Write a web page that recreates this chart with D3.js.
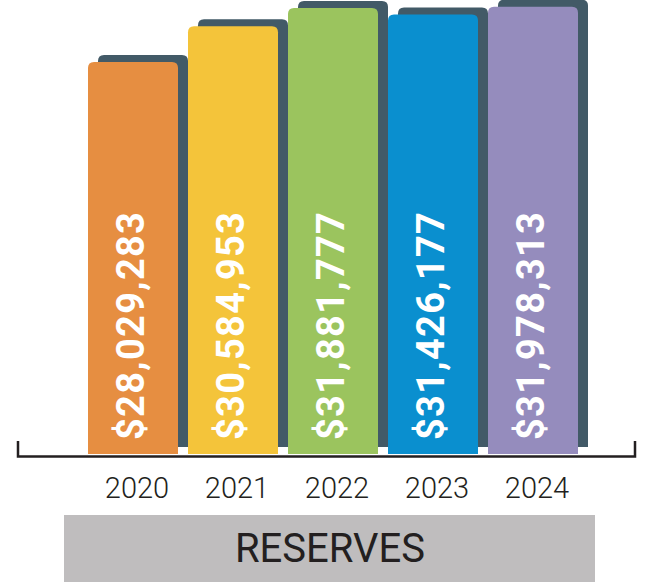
<!DOCTYPE html>
<html>
<head>
<meta charset="utf-8">
<script src="https://cdn.jsdelivr.net/npm/d3@7"></script>
<style>
  body { margin: 0; background: #fff; }
  svg { display: block; }
</style>
</head>
<body>
<div id="chart"></div>
<script>
//constants
const width = 646;
const height = 582;

//data
const years = ["2020", "2021", "2022", "2023", "2024"];
const reserves = [28029283, 30584953, 31881777, 31426177, 31978313];
const barColors = ["#E68E41", "#F4C43A", "#9BC45E", "#0A8FCF", "#958CBD"];
const title = "RESERVES";

const data = years.map((y, i) => ({ year: y, value: reserves[i], color: barColors[i] }));

const shadowColor = "#425A67";
const shadowDx = 10;
const shadowDy = -7;
const baseY = 454;

const x = d3
  .scaleBand()
  .domain(years)
  .range([83, 583])
  .paddingInner(0.1)
  .paddingOuter(0.05);

const y = d3.scaleLinear().domain([0, 32460000]).range([baseY, 0]);

const fmt = (v) => "$" + d3.format(",")(v);

// rect with only the top corners rounded
function topRounded(x0, y0, w, h, r) {
  return `M${x0},${y0 + h}V${y0 + r}Q${x0},${y0} ${x0 + r},${y0}H${x0 + w - r}Q${x0 + w},${y0} ${x0 + w},${y0 + r}V${y0 + h}Z`;
}

const svg = d3
  .select("#chart")
  .append("svg")
  .attr("width", width)
  .attr("height", height);

//shadows
svg
  .selectAll(".shadow")
  .data(data)
  .join("path")
  .attr("class", "shadow")
  .attr("fill", shadowColor)
  .attr("d", (d) =>
    topRounded(x(d.year) + shadowDx, y(d.value) + shadowDy, x.bandwidth(), baseY - y(d.value), 6)
  );

//bars
svg
  .selectAll(".bar")
  .data(data)
  .join("path")
  .attr("class", "bar")
  .attr("fill", (d) => d.color)
  .attr("d", (d) => topRounded(x(d.year), y(d.value), x.bandwidth(), baseY - y(d.value), 6));

//value labels
svg
  .selectAll(".val")
  .data(data)
  .join("text")
  .attr("class", "val")
  .attr("transform", (d) => `translate(${x(d.year) + x.bandwidth() / 2 + 11},${baseY - 14}) rotate(-90)`)
  .attr("font-family", "Roboto")
  .attr("font-weight", 700)
  .attr("font-size", 38)
  .attr("letter-spacing", 1.3)
  .attr("fill", "white")
  .text((d) => fmt(d.value));

//axis line with end ticks
const axisY = 456.5;
svg
  .append("path")
  .attr("d", `M18,441V${axisY}H635V441`)
  .attr("fill", "none")
  .attr("stroke", "#231F20")
  .attr("stroke-width", 2.5);

//year labels
svg
  .selectAll(".yr")
  .data(data)
  .join("text")
  .attr("class", "yr")
  .attr("x", (d) => x(d.year) + x.bandwidth() / 2 + 4)
  .attr("y", 498)
  .attr("text-anchor", "middle")
  .attr("font-family", "Roboto")
  .attr("font-weight", 300)
  .attr("font-size", 29)
  .attr("fill", "#231F20")
  .text((d) => d.year);

//title box
svg
  .append("rect")
  .attr("x", 64)
  .attr("y", 515)
  .attr("width", 531)
  .attr("height", 67)
  .attr("fill", "#BFBDBE");

svg
  .append("text")
  .attr("x", 330)
  .attr("y", 562)
  .attr("text-anchor", "middle")
  .attr("font-family", "Roboto")
  .attr("font-weight", 400)
  .attr("font-size", 40)
  .attr("fill", "#231F20")
  .text(title);
</script>
</body>
</html>
